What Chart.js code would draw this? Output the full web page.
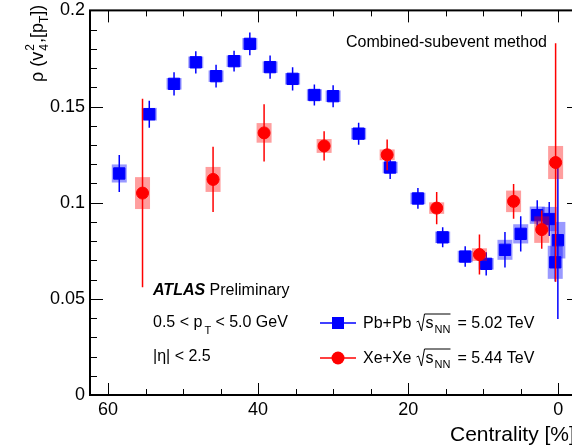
<!DOCTYPE html>
<html>
<head>
<meta charset="utf-8">
<script src="https://cdn.jsdelivr.net/npm/chart.js@4.4.1/dist/chart.umd.min.js"></script>
<style>
  body { margin: 0; overflow: hidden; background: #fff; }
</style>
</head>
<body>
<canvas id="myChart" width="600" height="446"></canvas>
<script>
// Pb+Pb 5.02 TeV
const pbCent = [58.5, 54.5, 51.2, 48.3, 45.6, 43.2, 41.1, 38.4, 35.4, 32.5, 30.0, 26.6, 22.4, 18.7, 15.4, 12.4, 9.6, 7.1, 5.0, 2.8, 1.2, 0.4, 0.05];
const pbVal = [0.1152, 0.146, 0.1618, 0.173, 0.1658, 0.1736, 0.1826, 0.1705, 0.1644, 0.156, 0.1554, 0.1359, 0.1183, 0.1022, 0.082, 0.072, 0.0682, 0.0755, 0.0838, 0.0935, 0.0915, 0.069, 0.0805];
const pbStat = [0.0096, 0.007, 0.006, 0.0058, 0.0059, 0.0054, 0.0059, 0.006, 0.006, 0.0055, 0.0057, 0.0057, 0.006, 0.0054, 0.0052, 0.0053, 0.006, 0.0092, 0.0092, 0.0078, 0.0088, 0.010, 0.041];
const pbSyst = [0.0047, 0.0033, 0.003, 0.003, 0.003, 0.003, 0.003, 0.003, 0.003, 0.003, 0.003, 0.003, 0.003, 0.003, 0.003, 0.003, 0.003, 0.0052, 0.005, 0.0045, 0.0063, 0.0086, 0.0095];

// Xe+Xe 5.44 TeV
const xeCent = [55.4, 46.0, 39.2, 31.2, 22.8, 16.2, 10.5, 5.95, 2.2, 0.35];
const xeVal = [0.105, 0.1121, 0.1363, 0.1295, 0.1249, 0.0972, 0.073, 0.1007, 0.086, 0.1209];
const xeStat = [0.049, 0.017, 0.0149, 0.0076, 0.008, 0.0084, 0.0104, 0.009, 0.01, 0.062];
const xeSyst = [0.0083, 0.0065, 0.0051, 0.0036, 0.0028, 0.003, 0.0033, 0.0056, 0.0069, 0.0086];

const xTickValues = [0, 20, 40, 60];
const yTickValues = [0, 0.05, 0.1, 0.15, 0.2];

const FONT = '"Liberation Sans", Arial, Helvetica, sans-serif';
const BOX_HALF = 1; // half width of syst boxes in % centrality

// syst boxes + stat bars, drawn under each dataset's markers
const errorBoxes = {
  id: 'errorBoxes',
  beforeDatasetDraw(chart, args) {
    const ds = chart.data.datasets[args.index];
    const { ctx: c, chartArea: a, scales: { x, y } } = chart;
    c.save();
    c.beginPath();
    c.rect(a.left, a.top, a.right - a.left, a.bottom - a.top);
    c.clip();
    c.fillStyle = ds.boxColor;
    ds.data.forEach((p, i) => {
      const x0 = x.getPixelForValue(p.x + BOX_HALF);
      const x1 = x.getPixelForValue(p.x - BOX_HALF);
      const y0 = y.getPixelForValue(p.y + ds.syst[i]);
      const y1 = y.getPixelForValue(p.y - ds.syst[i]);
      c.fillRect(Math.min(x0, x1), y0, Math.abs(x1 - x0), y1 - y0);
    });
    c.strokeStyle = ds.borderColor;
    c.lineWidth = 1.5;
    ds.data.forEach((p, i) => {
      const px = x.getPixelForValue(p.x);
      c.beginPath();
      c.moveTo(px, y.getPixelForValue(p.y + ds.stat[i]));
      c.lineTo(px, y.getPixelForValue(p.y - ds.stat[i]));
      c.stroke();
    });
    c.restore();
  }
};

// ATLAS style frame with inward ticks on all sides
const frameTicks = {
  id: 'frameTicks',
  afterDraw(chart) {
    const { ctx: c, chartArea: a, scales: { x, y } } = chart;
    c.save();
    c.strokeStyle = '#000';
    c.lineWidth = 1;
    c.beginPath();
    for (let v = 0; v <= 60; v += 5) {
      const px = Math.round(x.getPixelForValue(v)) + 0.5;
      const len = v % 20 === 0 ? 12 : 6;
      c.moveTo(px, a.bottom); c.lineTo(px, a.bottom - len);
      c.moveTo(px, a.top); c.lineTo(px, a.top + len);
    }
    for (let i = 0; i <= 20; i++) {
      const py = Math.round(y.getPixelForValue(i / 100)) + 0.5;
      const len = i % 5 === 0 ? 13 : 7;
      c.moveTo(a.left, py); c.lineTo(a.left + len, py);
      c.moveTo(a.right, py); c.lineTo(a.right - len, py);
    }
    c.stroke();
    c.lineWidth = 2;
    c.strokeRect(a.left, a.top, a.right - a.left, a.bottom - a.top);
    c.restore();
  }
};

function sqrtS(c, x, base) {
  // radical sign with overline over s_NN
  c.save();
  c.lineWidth = 1;
  c.beginPath();
  c.moveTo(x, base - 6);
  c.lineTo(x + 2, base - 7);
  c.lineTo(x + 5, base + 3);
  c.lineTo(x + 8, base - 14);
  c.lineTo(x + 34, base - 14);
  c.stroke();
  c.restore();
  c.font = '16px ' + FONT;
  c.fillText('s', x + 9, base);
  c.font = '11px ' + FONT;
  c.fillText('NN', x + 18, base + 5);
  return x + 38;
}

const labels = {
  id: 'labels',
  afterDraw(chart) {
    const c = chart.ctx;
    c.save();
    c.fillStyle = '#000';
    c.strokeStyle = '#000';
    c.textAlign = 'left';
    c.textBaseline = 'alphabetic';

    c.font = '16px ' + FONT;
    c.fillText('Combined-subevent method', 346, 47);

    c.font = 'italic bold 16px ' + FONT;
    c.fillText('ATLAS', 153, 295);
    const w = c.measureText('ATLAS ').width;
    c.font = '16px ' + FONT;
    c.fillText('Preliminary', 153 + w, 295);

    c.fillText('0.5 < p', 153, 327);
    let cx = 153 + c.measureText('0.5 < p').width;
    c.font = '11px ' + FONT;
    c.fillText('T', cx + 2, 334);
    c.font = '16px ' + FONT;
    c.fillText('< 5.0 GeV', cx + 13, 327);

    c.fillText('|\u03b7| < 2.5', 153, 361);

    // legend
    const rows = [
      { y: 323, color: '#0000ff', shape: 'rect', name: 'Pb+Pb', energy: '= 5.02 TeV' },
      { y: 358, color: '#ff0000', shape: 'circle', name: 'Xe+Xe', energy: '= 5.44 TeV' }
    ];
    rows.forEach(r => {
      c.strokeStyle = r.color;
      c.fillStyle = r.color;
      c.lineWidth = 1.5;
      c.beginPath();
      c.moveTo(320, r.y); c.lineTo(356, r.y);
      c.stroke();
      if (r.shape === 'rect') {
        c.fillRect(332, r.y - 6, 12, 12);
      } else {
        c.beginPath(); c.arc(338, r.y, 6.5, 0, Math.PI * 2); c.fill();
      }
      c.fillStyle = '#000';
      c.strokeStyle = '#000';
      c.font = '16px ' + FONT;
      const base = r.y + 5;
      c.fillText(r.name, 363, base);
      const nx = sqrtS(c, 363 + c.measureText(r.name).width + 5, base);
      c.font = '16px ' + FONT;
      c.fillText(r.energy, nx + 3, base);
    });

    // x title
    c.fillStyle = '#000';
    c.font = '21px ' + FONT;
    c.fillText('Centrality [%]', 450, 441);

    // y title
    c.translate(43, 82);
    c.rotate(-Math.PI / 2);
    let tx = 0;
    const big = '18px ' + FONT, small = '12px ' + FONT;
    const put = (t, f, dy) => { c.font = f; c.fillText(t, tx, dy); tx += c.measureText(t).width; };
    put('\u03c1 (v', big, 0);
    c.font = small;
    c.fillText('2', tx + 1, -9);
    c.fillText('4', tx + 1, 5);
    tx += c.measureText('2').width + 2;
    put(',[p', big, 0);
    put('T', small, 5);
    put('])', big, 0);
    c.restore();
  }
};

const ctx = document.getElementById('myChart');

new Chart(ctx, {
  type: 'scatter',
  data: {
    datasets: [{
      label: 'Xe+Xe',
      data: xeCent.map((v, i) => ({ x: v, y: xeVal[i] })),
      stat: xeStat,
      syst: xeSyst,
      boxColor: 'rgba(255, 0, 0, 0.38)',
      pointStyle: 'circle',
      pointRadius: 6,
      backgroundColor: '#ff0000',
      borderColor: '#ff0000',
      borderWidth: 1,
      order: 0
    }, {
      label: 'Pb+Pb',
      data: pbCent.map((v, i) => ({ x: v, y: pbVal[i] })),
      stat: pbStat,
      syst: pbSyst,
      boxColor: 'rgba(0, 0, 255, 0.4)',
      pointStyle: 'rect',
      pointRadius: 8,
      backgroundColor: '#0000ff',
      borderColor: '#0000ff',
      borderWidth: 1,
      order: 1
    }]
  },
  options: {
    responsive: false,
    animation: false,
    layout: { autoPadding: false, padding: { top: 9, right: 20, left: 0, bottom: 0 } },
    plugins: {
      legend: { display: false },
      tooltip: { enabled: false }
    },
    scales: {
      x: {
        type: 'linear',
        reverse: true,
        min: -2.9,
        max: 62.4,
        afterBuildTicks: s => { s.ticks = xTickValues.map(v => ({ value: v })); },
        afterFit: s => { s.height = 51; },
        grid: { display: false, drawTicks: false },
        border: { display: false },
        ticks: {
          color: '#000',
          padding: 4,
          font: { family: FONT, size: 18 },
          callback: v => String(v)
        }
      },
      y: {
        min: 0,
        max: 0.2,
        afterBuildTicks: s => { s.ticks = yTickValues.map(v => ({ value: v })); },
        afterFit: s => { s.width = 90; },
        grid: { display: false, drawTicks: false },
        border: { display: false },
        ticks: {
          color: '#000',
          padding: 5,
          font: { family: FONT, size: 18, lineHeight: 0.6 },
          callback: v => String(+v.toFixed(2))
        }
      }
    }
  },
  plugins: [errorBoxes, frameTicks, labels]
});
</script>
</body>
</html>
